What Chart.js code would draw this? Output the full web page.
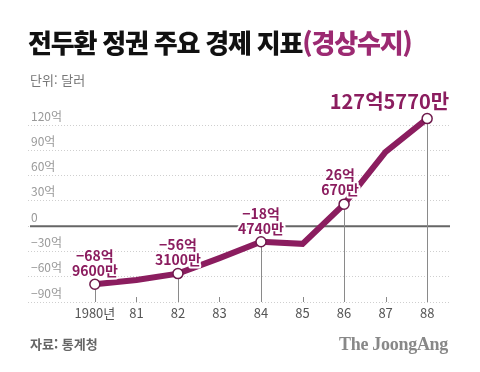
<!DOCTYPE html>
<html lang="ko">
<head>
<meta charset="utf-8">
<script src="https://cdn.jsdelivr.net/npm/chart.js@4"></script>
<style>
  html, body { margin: 0; padding: 0; background: #fff; }
  #wrap { position: relative; width: 480px; height: 372px; font-family: "Noto Sans CJK KR", "Noto Sans", sans-serif; }
  #chartBox { position: absolute; left: 0; top: 0; width: 480px; height: 372px; }
  .title { position: absolute; left: 28px; top: 25px; font-size: 26px; font-weight: 900; color: #111; letter-spacing: -1.2px; white-space: nowrap; line-height: 34px; }
  .title span { color: #9c2a72; }
  .unit { position: absolute; left: 30px; top: 70px; font-size: 13px; color: #777; line-height: 20px; }
  .source { position: absolute; left: 30px; top: 334px; font-size: 13px; color: #666; font-weight: 700; line-height: 20px; }
  .brand { position: absolute; right: 32px; top: 332px; font-family: "Liberation Serif", "DejaVu Serif", serif; font-size: 18px; font-weight: 700; color: #888; line-height: 24px; letter-spacing: -0.3px; }
</style>
</head>
<body>
<div id="wrap">
  <div id="chartBox"><canvas id="chart"></canvas></div>
  <div class="title">전두환 정권 주요 경제 지표<span>(경상수지)</span></div>
  <div class="unit">단위: 달러</div>
  <div class="source">자료: 통계청</div>
  <div class="brand">The JoongAng</div>
</div>
<script>
// 데이터 (단위: 억 달러)
const years = [1980, 1981, 1982, 1983, 1984, 1985, 1986, 1987, 1988];
const yearLabels = ['1980년', '81', '82', '83', '84', '85', '86', '87', '88'];
const balance = [-68.96, -64, -56.31, -38, -18.474, -21, 26.067, 88, 127.577];
const yTicks = [-90, -60, -30, 0, 30, 60, 90, 120];
const yTickLabels = ['−90억', '−60억', '−30억', '0', '30억', '60억', '90억', '120억'];
// 점에 붙는 설명 (없으면 null)
const pointNotes = [
  ['−68억', '9600만'], null, ['−56억', '3100만'], null,
  ['−18억', '4740만'], null, ['26억', '670만'], null, ['127억5770만']
];

const PURPLE = '#8b1d5f';

// 0 기준선, 수직선, 라벨 그리기
const decorPlugin = {
  id: 'decor',
  beforeDatasetsDraw(chart) {
    const c = chart.ctx;
    const y = chart.scales.y;
    const area = chart.chartArea;
    const zeroY = y.getPixelForValue(0);
    c.save();
    c.strokeStyle = '#666';
    c.lineWidth = 2;
    c.beginPath();
    c.moveTo(area.left + 2, zeroY);
    c.lineTo(area.right, zeroY);
    c.stroke();

    const meta = chart.getDatasetMeta(0);
    c.strokeStyle = '#8a8a8a';
    c.lineWidth = 1;
    meta.data.forEach((pt, i) => {
      const x = Math.round(pt.x) + 0.5;
      c.beginPath();
      if (pointNotes[i]) {
        c.moveTo(x, pt.y);
      } else {
        c.moveTo(x, area.bottom - 5);
      }
      c.lineTo(x, area.bottom);
      c.stroke();
    });
    c.restore();
  },
  afterDatasetsDraw(chart) {
    const c = chart.ctx;
    const meta = chart.getDatasetMeta(0);
    c.save();
    c.fillStyle = PURPLE;
    c.strokeStyle = '#fff';
    c.lineJoin = 'round';
    c.textBaseline = 'middle';
    meta.data.forEach((pt, i) => {
      const note = pointNotes[i];
      if (!note) return;
      if (note.length === 1) {
        c.font = 'bold 20px "Noto Sans CJK KR", sans-serif';
        c.textAlign = 'right';
        c.lineWidth = 4;
        c.strokeText(note[0], pt.x + 22, pt.y - 17);
        c.fillText(note[0], pt.x + 22, pt.y - 17);
        return;
      }
      c.font = 'bold 14px "Noto Sans CJK KR", sans-serif';
      c.textAlign = 'center';
      c.lineWidth = 4;
      const dx = i === 6 ? -4 : 0;
      const top = i === 4 ? -28 : -29;
      note.forEach((line, k) => {
        const ty = pt.y + top + k * 15;
        c.strokeText(line, pt.x + dx, ty);
        c.fillText(line, pt.x + dx, ty);
      });
    });
    c.restore();
  }
};

const ctx = document.getElementById('chart').getContext('2d');
new Chart(ctx, {
  type: 'line',
  data: {
    datasets: [{
      data: years.map((yr, i) => ({ x: yr, y: balance[i] })),
      borderColor: PURPLE,
      borderWidth: 6,
      tension: 0,
      clip: false,
      pointRadius: pointNotes.map(n => (n ? 5 : 0)),
      pointHoverRadius: pointNotes.map(n => (n ? 5 : 0)),
      pointBackgroundColor: '#fff',
      pointBorderColor: '#6e1a4c',
      pointBorderWidth: 1.5
    }]
  },
  options: {
    responsive: true,
    maintainAspectRatio: false,
    animation: false,
    events: [],
    layout: { padding: { left: 28, right: 30, top: 125, bottom: 0 } },
    plugins: { legend: { display: false }, tooltip: { enabled: false } },
    scales: {
      x: {
        type: 'linear',
        min: 1978.39,
        max: 1988.55,
        afterBuildTicks: s => { s.ticks = years.map(v => ({ value: v })); },
        afterFit: s => { s.height = 70; },
        grid: { display: false, drawTicks: false },
        border: { display: false },
        ticks: {
          padding: 3,
          color: '#555',
          font: { size: 13, family: '"Noto Sans CJK KR", sans-serif' },
          autoSkip: false,
          maxRotation: 0,
          callback: (v) => yearLabels[years.indexOf(v)]
        }
      },
      y: {
        min: -90,
        max: 120,
        afterBuildTicks: s => { s.ticks = yTicks.map(v => ({ value: v })); },
        afterFit: s => { s.width = 0; },
        grid: {
          color: '#cfcfcf',
          lineWidth: 1,
          drawTicks: false
        },
        border: { display: false, dash: [1, 2] },
        ticks: {
          mirror: true,
          padding: 3,
          labelOffset: -9,
          color: '#999',
          font: { size: 12, family: '"Noto Sans CJK KR", sans-serif' },
          callback: (v) => yTickLabels[yTicks.indexOf(v)]
        }
      }
    }
  },
  plugins: [decorPlugin]
});
</script>
</body>
</html>
